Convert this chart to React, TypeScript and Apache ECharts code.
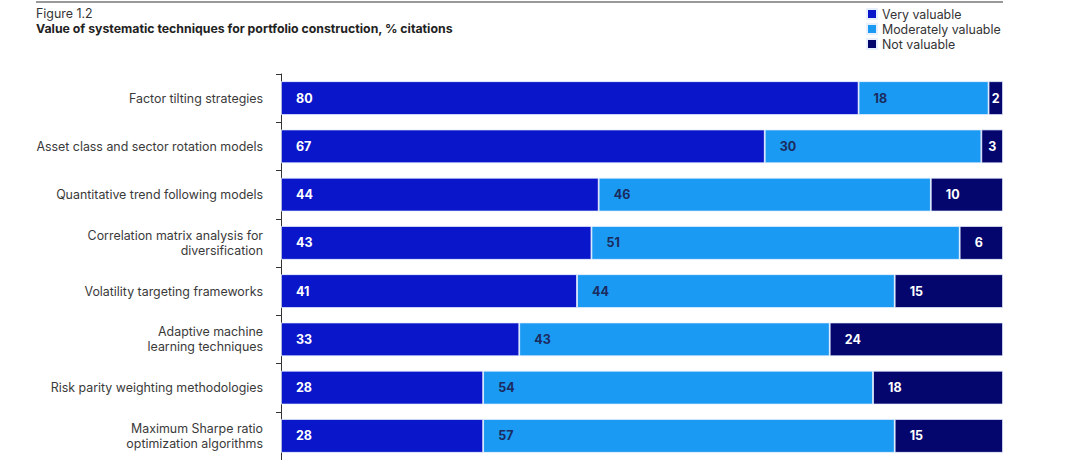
import React, { useEffect, useRef } from "react";
import * as echarts from "echarts";

const categories = [
  "Factor tilting strategies",
  "Asset class and sector rotation models",
  "Quantitative trend following models",
  "Correlation matrix analysis for\ndiversification",
  "Volatility targeting frameworks",
  "Adaptive machine\nlearning techniques",
  "Risk parity weighting methodologies",
  "Maximum Sharpe ratio\noptimization algorithms",
];
const veryValuable = [80, 67, 44, 43, 41, 33, 28, 28];
const moderatelyValuable = [18, 30, 46, 51, 44, 43, 54, 57];
const notValuable = [2, 3, 10, 6, 15, 24, 18, 15];
const seriesNames = ["Very valuable", "Moderately valuable", "Not valuable"];

const FONT = "Inter, 'Noto Sans', sans-serif";
const colors = ["#0a16c9", "#1a9af2", "#04066e"];
const labelColors = ["#ffffff", "#1c2a5e", "#ffffff"];

export default function App() {
  const ref = useRef<HTMLDivElement>(null);
  useEffect(() => {
    document.body.style.margin = "0";
    const chart = echarts.init(ref.current!, null, { renderer: "svg" });
    const lists = [veryValuable, moderatelyValuable, notValuable];
    const series = lists.map((vals, i) => ({
      name: seriesNames[i],
      type: "bar",
      stack: "total",
      barCategoryGap: "30%",
      itemStyle: { color: colors[i], borderColor: "#e8f0ff", borderWidth: 0.8 },
      label: {
        show: true,
        position: "insideLeft",
        distance: 15,
        color: labelColors[i],
        fontFamily: FONT,
        fontWeight: "bold",
        fontSize: 12.5,
      },
      data: vals.map((v) =>
        v < 5 ? { value: v, label: { position: "inside", distance: 0 } } : v
      ),
    }));
    chart.setOption({
      animation: false,
      textStyle: { fontFamily: FONT },
      grid: { left: 281, right: 77, top: 74, bottom: -1, containLabel: false },
      legend: {
        orient: "vertical",
        left: 866,
        top: 8,
        padding: 0,
        itemWidth: 10,
        itemHeight: 10,
        itemGap: 3,
        icon: "rect",
        textStyle: { fontSize: 12.4, color: "#333", fontFamily: FONT },
        data: seriesNames,
      },
      xAxis: {
        type: "value",
        min: 0,
        max: 100,
        show: false,
      },
      yAxis: {
        type: "category",
        inverse: true,
        data: categories,
        axisLine: { show: true, lineStyle: { color: "#333", width: 1 } },
        axisTick: { show: true, length: 5, lineStyle: { color: "#333" } },
        axisLabel: {
          margin: 18,
          fontSize: 12.4,
          color: "#3a3a3a",
          fontFamily: FONT,
          lineHeight: 15,
        },
      },
      graphic: [
        {
          type: "line",
          shape: { x1: 36, y1: 2, x2: 1003, y2: 2 },
          style: { stroke: "#333", lineWidth: 1 },
        },
        {
          type: "text",
          left: 36,
          top: 7,
          style: { text: "Figure 1.2", fontSize: 12.4, fill: "#333", fontFamily: FONT },
        },
        {
          type: "text",
          left: 36,
          top: 22,
          style: {
            text: "Value of systematic techniques for portfolio construction, % citations",
            fontSize: 12.3,
            fontWeight: "bold",
            fill: "#222",
            fontFamily: FONT,
          },
        },
      ],
      series,
    });
    return () => chart.dispose();
  }, []);
  return <div ref={ref} style={{ width: 1080, height: 460 }} />;
}
